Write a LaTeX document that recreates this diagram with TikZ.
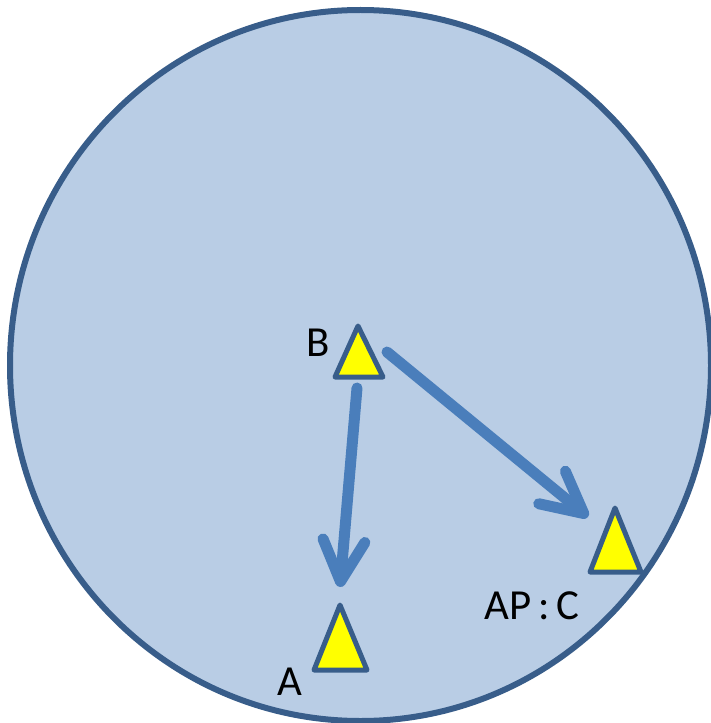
\documentclass[tikz,border=0pt]{standalone}
\usepackage{fontspec}
\setmainfont{Carlito}
\usetikzlibrary{arrows.meta}
\definecolor{discfill}{HTML}{B9CDE5}
\definecolor{discline}{HTML}{385D8A}
\definecolor{arrowblue}{HTML}{4A7EBB}
\definecolor{triyellow}{HTML}{FFFF00}
\tikzset{
  disc/.style={fill=discfill, draw=discline, line width=6bp},
  tri/.style={fill=triyellow, draw=discline, line width=5bp, line join=round},
  conn/.style={draw=arrowblue, line width=11bp, line cap=round,
    -{Straight Barb[round, length=41bp, width=42bp]}},
  lbl/.style={anchor=base, inner sep=0pt, font=\fontsize{43}{43}\selectfont}
}
\begin{document}
\begin{tikzpicture}[x=1bp, y=-1bp]
\useasboundingbox (0,0) rectangle (711,723);
% disc
\draw[disc] (360.5,365.5) ellipse [x radius=350.5, y radius=355.5];
% triangle B
\coordinate (B1) at (358,326);
\coordinate (B2) at (335,377);
\coordinate (B3) at (383,377);
\draw[tri] (B1) -- (B2) -- (B3) -- cycle;
% triangle A
\coordinate (A1) at (340,605);
\coordinate (A2) at (314,670);
\coordinate (A3) at (367,670);
\draw[tri] (A1) -- (A2) -- (A3) -- cycle;
% triangle C
\coordinate (C1) at (615,508);
\coordinate (C2) at (590,572);
\coordinate (C3) at (641,572);
\draw[tri] (C1) -- (C2) -- (C3) -- cycle;
% labels
\node[lbl] (Bl) at (318,356) {B};
\node[lbl] (Al) at (290,695) {A};
\node[lbl] (Cl) at (532,619) {AP\,:\,C};
% connectors
\coordinate (BA0) at (357,388);
\coordinate (BA1) at (340,587);
\coordinate (BC0) at (387,352);
\coordinate (BC1) at (588,517);
\draw[conn] (BA0) -- (BA1);
\draw[conn] (BC0) -- (BC1);
\end{tikzpicture}
\end{document}
